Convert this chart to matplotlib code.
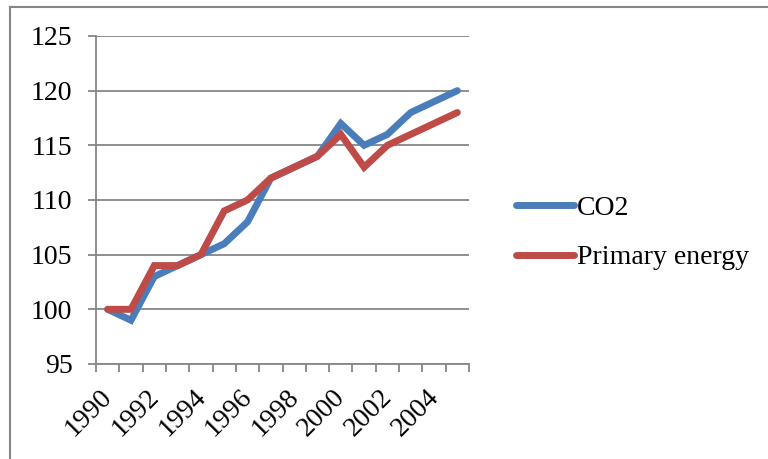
import matplotlib.pyplot as plt
from matplotlib.lines import Line2D
import matplotlib.transforms as mtransforms
import numpy as np

# Indexed emissions and energy use, 1990 = 100
years = list(range(1990, 2006))
co2 = [100, 99, 103, 104, 105, 106, 108, 112, 113, 114, 117, 115, 116, 118, 119, 120]
primary_energy = [100, 100, 104, 104, 105, 109, 110, 112, 113, 114, 116, 113, 115, 116, 117, 118]
y_ticks = [95, 100, 105, 110, 115, 120, 125]

plt.rcParams['font.family'] = ['Liberation Serif', 'DejaVu Serif']
grey = '#868686'
fs = 20

fig = plt.figure(figsize=(7.68, 4.59), dpi=100)
ax = fig.add_axes([0.125, 0.207, 0.4857, 0.7146])

x = np.arange(len(years))
ax.plot(x, co2, color='#4a7ebb', lw=5, solid_capstyle='round', solid_joinstyle='miter', label='CO2')
ax.plot(x, primary_energy, color='#be4b48', lw=5, solid_capstyle='round', solid_joinstyle='miter', label='Primary energy')

ax.set_xlim(-0.5, len(years) - 0.5)
ax.set_ylim(95, 125)
ax.set_yticks(y_ticks)
ax.grid(axis='y', color=grey, lw=1.3)
ax.set_axisbelow(True)

# category labels every other year, tick marks between categories
ax.set_xticks(x[::2])
ax.set_xticklabels([str(y) for y in years[::2]], rotation=45, ha='right', va='top',
                   rotation_mode='anchor')
ax.set_xticks(np.arange(-0.5, len(years)), minor=True)
ax.tick_params(axis='x', which='major', length=0, pad=15, labelsize=fs)
ax.tick_params(axis='x', which='minor', length=6, width=1.3, color=grey, direction='out')
ax.tick_params(axis='y', length=6, width=1.3, color=grey, direction='out', pad=11, labelsize=fs)

# nudge the rotated year labels to the left
shift = mtransforms.ScaledTranslation(-8 / 100, 0, fig.dpi_scale_trans)
for lbl in ax.get_xticklabels():
    lbl.set_transform(lbl.get_transform() + shift)

for side in ['top', 'right']:
    ax.spines[side].set_visible(False)
for side in ['left', 'bottom']:
    ax.spines[side].set_color(grey)
    ax.spines[side].set_linewidth(1.3)

ax.legend(loc='center left', bbox_to_anchor=(1.059, 0.40), frameon=False, fontsize=fs,
          handlelength=2.1, handletextpad=0.1, labelspacing=0.88)

# chart area border (left and top edges)
fig.add_artist(Line2D([0.0135, 0.0135], [0, 0.985], color=grey, lw=1.5))
fig.add_artist(Line2D([0.0135, 1.0], [0.985, 0.985], color=grey, lw=1.5))

fig.savefig('out.png', dpi=100)
